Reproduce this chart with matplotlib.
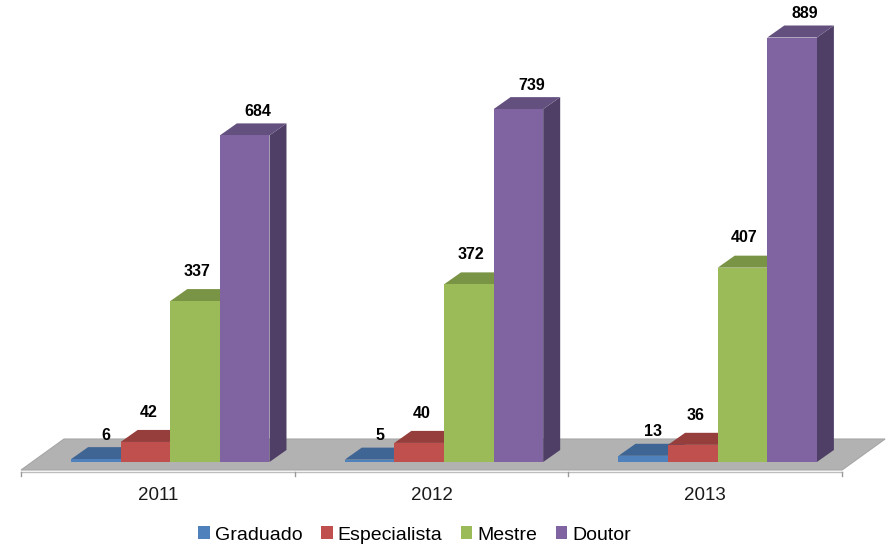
import matplotlib.pyplot as plt
from matplotlib.patches import Polygon, Patch
import numpy as np

plt.rcParams['font.family'] = ['Liberation Sans', 'DejaVu Sans']

anos = ['2011', '2012', '2013']
titulos = ['Graduado', 'Especialista', 'Mestre', 'Doutor']
graduado = [6, 5, 13]
especialista = [42, 40, 36]
mestre = [337, 372, 407]
doutor = [684, 739, 889]
series = [graduado, especialista, mestre, doutor]

frente = ['#4F81BD', '#C0504D', '#9BBB59', '#8064A2']
topo = ['#3E6594', '#963E3C', '#7A9446', '#64507F']
lado = ['#34557D', '#7E3432', '#667C3A', '#4F3F66']

# pixel scale of the axes (x: one category = 273.7 px, y: 0.4775 px per unit)
PX_X = 273.7
PX_Y = 0.4775
def px(dx, dy):
    return dx / PX_X, dy / PX_Y

fig = plt.figure(figsize=(8.88, 5.47), dpi=100)
ax = fig.add_axes([0, 0, 1, 1])
ax.set_xlim(-0.5 - 21 / PX_X, -0.5 + (888 - 21) / PX_X)
ax.set_ylim(-(547 - 462) / PX_Y, 462 / PX_Y)
ax.axis('off')

# floor
fx, fy = px(43, 31)
_, f0 = px(0, -8)
piso = Polygon([(-0.5, f0), (2.5, f0), (2.5 + fx, f0 + fy), (-0.5 + fx, f0 + fy)],
               closed=True, facecolor='#B2B2B2', edgecolor='#A6A6A6', lw=0.8, zorder=1)
ax.add_patch(piso)

# category axis with ticks
_, ya = px(0, -10)
_, yt = px(0, -14)
ax.plot([-0.5, 2.5], [ya, ya], color='#BDBDBD', lw=1, zorder=2)
for t in np.arange(-0.5, 3.0, 1.0):
    ax.plot([t, t], [ya, yt], color='#9A9A9A', lw=1, zorder=2)
_, ylab = px(0, -34)
for i, a in enumerate(anos):
    ax.text(i, ylab, a, ha='center', va='center', fontsize=13.5, color='#1A1A1A')

# bars with depth
w = 49.6 / PX_X
inicio = -0.317
ddx, ddy = px(17, 12)
lab_dx = [10, 3, 2, 13]
lab_dy = [24, 29, 30, 24]
for i in range(len(anos)):
    for j, s in enumerate(series):
        v = s[i]
        xl = i + inicio + j * w
        xr = xl + w
        ax.add_patch(Polygon([(xr, 0), (xr + ddx, ddy), (xr + ddx, v + ddy), (xr, v)],
                             closed=True, facecolor=lado[j], edgecolor='none', zorder=3 + j))
        ax.add_patch(Polygon([(xl, v), (xr, v), (xr + ddx, v + ddy), (xl + ddx, v + ddy)],
                             closed=True, facecolor=topo[j], edgecolor='none', zorder=3 + j))
        ax.add_patch(Polygon([(xl, 0), (xr, 0), (xr, v), (xl, v)],
                             closed=True, facecolor=frente[j], edgecolor='none', zorder=3 + j))
        ax.annotate(str(v), (xl + w / 2, v), xytext=(lab_dx[j] * 0.72, lab_dy[j] * 0.72),
                    textcoords='offset points', ha='center', va='center',
                    fontsize=11.5, fontweight='bold', color='black', zorder=10)

handles = [Patch(facecolor=c, edgecolor='none') for c in frente]
fig.legend(handles, titulos, loc='center', bbox_to_anchor=(0.467, 1 - 535 / 547), ncol=4,
           frameon=False, fontsize=14, handlelength=0.6, handleheight=0.6,
           handletextpad=0.25, columnspacing=0.95, borderpad=0)

fig.savefig('out.png', dpi=100)
